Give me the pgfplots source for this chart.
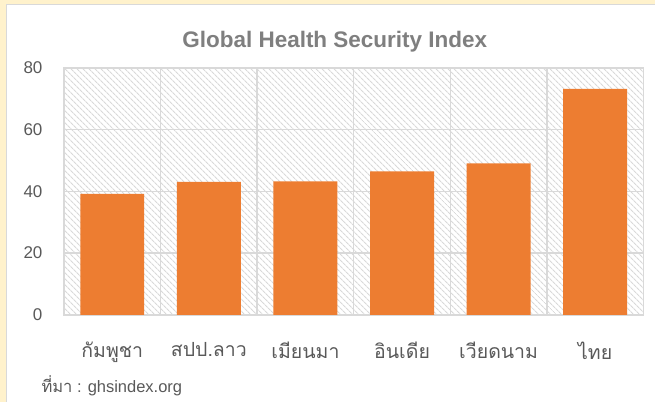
\documentclass[border=0pt]{standalone}
\usepackage{fontspec}
\setmainfont{Liberation Sans}
\newfontfamily\thaifont[Script=Thai]{Loma}
\usepackage{pgfplots}
\pgfplotsset{compat=1.18}
\usetikzlibrary{patterns.meta}
\definecolor{barc}{HTML}{ED7D31}
\definecolor{txt}{HTML}{595959}
\definecolor{ttl}{HTML}{7F7F7F}
\definecolor{gridc}{HTML}{D9D9D9}
\definecolor{framec}{HTML}{FFF2CC}
\begin{document}
\begin{tikzpicture}[x=1pt,y=1pt]
\fill[framec] (0,0) rectangle (655,402);
\fill[white] (6,0) rectangle (655,398);
\draw[gridc,line width=1pt] (6.5,0) -- (6.5,397.5) -- (655,397.5);
\path[use as bounding box] (0,0) rectangle (655,402);
\node[text=ttl, font=\bfseries\fontsize{22.5}{26}\selectfont] at (335,360) {Global Health Security Index};
\begin{axis}[
  at={(64pt,87pt)}, anchor=south west,
  scale only axis, width=580pt, height=247pt,
  xmin=-0.5, xmax=5.5, ymin=0, ymax=80,
  ytick={0,20,40,60,80},
  xtick={0,1,2,3,4,5},
  xticklabels={กัมพูชา,สปป.ลาว,เมียนมา,อินเดีย,เวียดนาม,ไทย},
  minor xtick={-0.5,0.5,1.5,2.5,3.5,4.5,5.5},
  ymajorgrids, xminorgrids,
  major grid style={gridc, line width=1.5pt},
  minor grid style={gridc, line width=1.5pt},
  axis line style={gridc, line width=1.5pt},
  major tick length=0pt, minor tick length=0pt,
  tick style={draw=none},
  yticklabel style={font=\fontsize{17}{20}\selectfont, text=txt, xshift=-18pt},
  xticklabel style={font=\thaifont\fontsize{19.5}{23}\selectfont, text=txt, yshift=-24pt},
  /pgf/number format/assume math mode=true,
  axis background/.style={pattern={Lines[angle=-45,distance=4pt,line width=1pt]}, pattern color=gridc},
]
\addplot[ybar, bar width=64pt, fill=barc, draw=none] coordinates {
  (0,39.2) (1,43.1) (2,43.2) (3,46.5) (4,49.1) (5,73.2)
};
\end{axis}
\node[anchor=west, text=txt, font=\fontsize{16.5}{19}\selectfont] at (38,16) {{\thaifont ที่มา} : ghsindex.org};
\end{tikzpicture}
\end{document}
